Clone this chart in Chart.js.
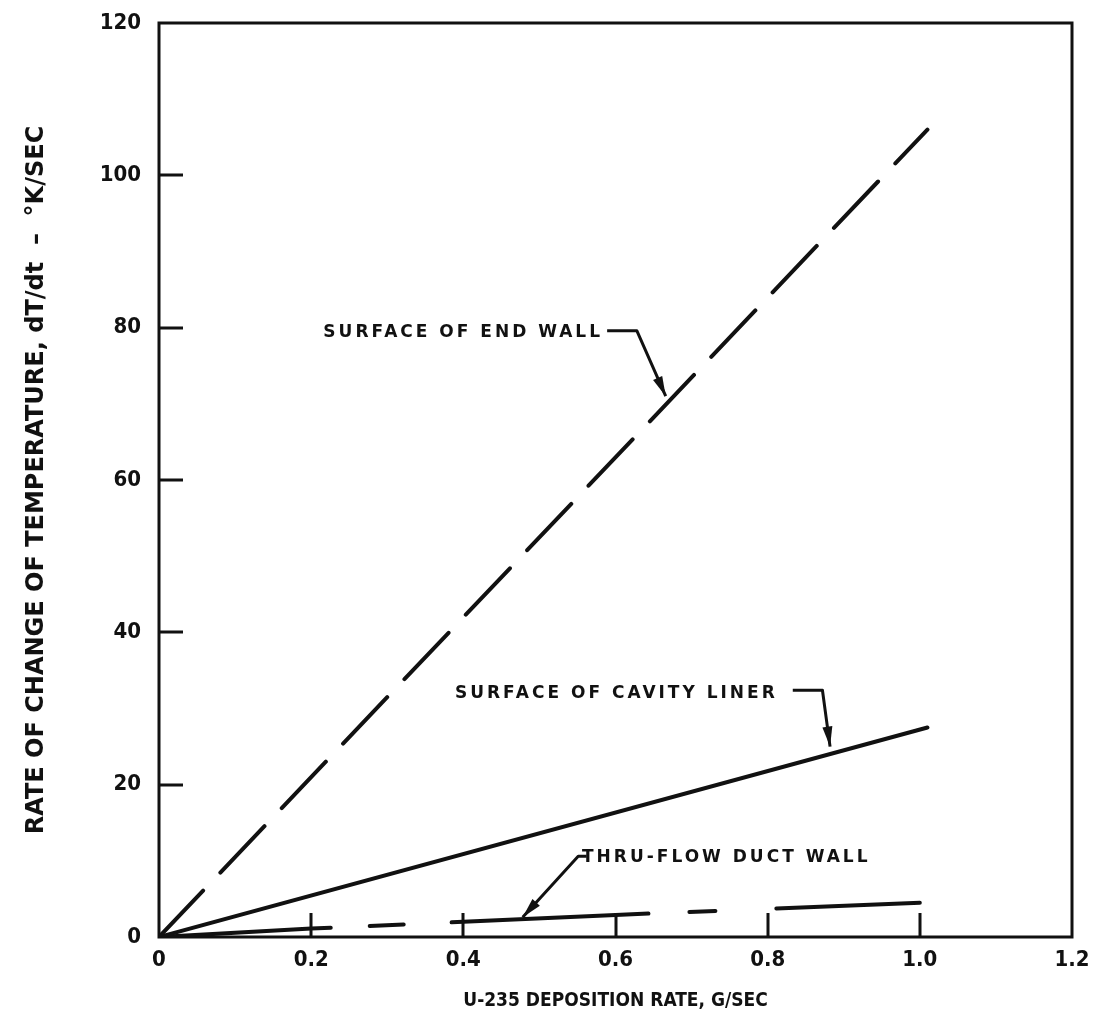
<!DOCTYPE html>
<html>
<head>
<meta charset="utf-8">
<title>Rate of change of temperature vs U-235 deposition rate</title>
<script src="https://cdn.jsdelivr.net/npm/chart.js@4/dist/chart.umd.min.js"></script>
<style>
  html, body { margin: 0; padding: 0; background: #fff; }
  #wrap { width: 1097px; height: 1032px; }
</style>
</head>
<body>
<div id="wrap"><canvas id="chart" width="1097" height="1032"></canvas></div>
<script>
// ---- data: U-235 deposition rate (g/sec) vs dT/dt (K/sec) ----
const lineRate        = [0, 1.01];
const endWallDTdt     = [0, 106];
const cavityLinerDTdt = [0, 27.5];

const ductRate        = [0, 0.2, 0.4, 0.6, 0.8, 1.0];
const ductWallDTdt    = [0, 1.1, 2.0, 2.9, 3.7, 4.5];

const xTickValues = [0, 0.2, 0.4, 0.6, 0.8, 1.0, 1.2];
const xTickLabels = ['0', '0.2', '0.4', '0.6', '0.8', '1.0', '1.2'];
const yTickValues = [0, 20, 40, 60, 80, 100, 120];
const yTickLabels = ['0', '20', '40', '60', '80', '100', '120'];

const curveLabels = ['SURFACE OF END WALL', 'SURFACE OF CAVITY LINER', 'THRU-FLOW DUCT WALL'];

// ---- styling ----
const NARROW = "'Liberation Sans Narrow', 'DejaVu Sans Condensed', 'Liberation Sans', sans-serif";
const WIDE   = "'DejaVu Sans', 'Liberation Sans', sans-serif";
const INK = '#111';

const toPoints = (xs, ys) => xs.map((x, i) => ({ x, y: ys[i] }));

// callout placement (data coordinates): text anchor, then leader polyline ending in an arrow
const callouts = [
  { text: curveLabels[0], at: [0.216, 79.3], leader: [[0.589, 79.6], [0.628, 79.6], [0.666, 71.0]] },
  { text: curveLabels[1], at: [0.389, 32.0], leader: [[0.833, 32.4], [0.872, 32.4], [0.882, 25.0]] },
  { text: curveLabels[2], at: [0.556, 10.4], leader: [[0.562, 10.6], [0.551, 10.6], [0.478, 2.6]] }
];

// plot frame and inward tick marks
const framePlugin = {
  id: 'frame',
  beforeDatasetsDraw(chart) {
    const { ctx, chartArea: a, scales: { x, y } } = chart;
    ctx.save();
    ctx.strokeStyle = INK;
    ctx.lineWidth = 3;
    ctx.strokeRect(a.left, a.top, a.right - a.left, a.bottom - a.top);
    ctx.beginPath();
    x.ticks.forEach(t => {
      if (t.value > x.min && t.value < x.max) {
        const px = Math.round(x.getPixelForValue(t.value));
        ctx.moveTo(px, a.bottom);
        ctx.lineTo(px, a.bottom - 24);
      }
    });
    y.ticks.forEach(t => {
      if (t.value > y.min && t.value < y.max) {
        const py = Math.round(y.getPixelForValue(t.value));
        ctx.moveTo(a.left, py);
        ctx.lineTo(a.left + 24, py);
      }
    });
    ctx.stroke();
    ctx.restore();
  }
};

// curve labels with leader lines and arrowheads
const calloutPlugin = {
  id: 'callouts',
  afterDatasetsDraw(chart) {
    const { ctx, scales: { x, y } } = chart;
    const P = ([vx, vy]) => [x.getPixelForValue(vx), y.getPixelForValue(vy)];
    ctx.save();
    ctx.fillStyle = INK;
    ctx.strokeStyle = INK;
    ctx.font = `bold 17px ${WIDE}`;
    ctx.letterSpacing = '3px';
    ctx.textBaseline = 'middle';
    ctx.textAlign = 'left';
    callouts.forEach(c => {
      const [tx, ty] = P(c.at);
      ctx.fillText(c.text, tx, ty);
      const pts = c.leader.map(P);
      ctx.lineWidth = 3;
      ctx.lineJoin = 'round';
      ctx.beginPath();
      ctx.moveTo(pts[0][0], pts[0][1]);
      for (let i = 1; i < pts.length; i++) ctx.lineTo(pts[i][0], pts[i][1]);
      ctx.stroke();
      const [ex, ey] = pts[pts.length - 1];
      const [sx, sy] = pts[pts.length - 2];
      const ang = Math.atan2(ey - sy, ex - sx);
      const len = 20, half = 5;
      ctx.beginPath();
      ctx.moveTo(ex, ey);
      ctx.lineTo(ex - len * Math.cos(ang) + half * Math.sin(ang), ey - len * Math.sin(ang) - half * Math.cos(ang));
      ctx.lineTo(ex - len * Math.cos(ang) - half * Math.sin(ang), ey - len * Math.sin(ang) + half * Math.cos(ang));
      ctx.closePath();
      ctx.fill();
    });
    ctx.restore();
  }
};

new Chart(document.getElementById('chart'), {
  type: 'line',
  data: {
    datasets: [
      {
        label: curveLabels[0],
        data: toPoints(lineRate, endWallDTdt),
        borderColor: INK,
        borderWidth: 4,
        borderDash: [64, 25],
        borderCapStyle: 'round',
        pointRadius: 0,
        tension: 0
      },
      {
        label: curveLabels[1],
        data: toPoints(lineRate, cavityLinerDTdt),
        borderColor: INK,
        borderWidth: 4,
        borderCapStyle: 'round',
        pointRadius: 0,
        tension: 0
      },
      {
        label: curveLabels[2],
        data: toPoints(ductRate, ductWallDTdt),
        borderColor: INK,
        borderWidth: 4,
        borderDash: [172, 39, 34, 48, 197, 41, 26, 61, 150, 200],
        borderCapStyle: 'round',
        pointRadius: 0,
        tension: 0
      }
    ]
  },
  options: {
    responsive: false,
    devicePixelRatio: 1,
    animation: false,
    layout: { padding: { top: 23, right: 25, bottom: 0, left: 0 } },
    plugins: { legend: { display: false }, tooltip: { enabled: false } },
    scales: {
      x: {
        type: 'linear',
        min: 0,
        max: 1.2,
        afterBuildTicks: s => { s.ticks = xTickValues.map(v => ({ value: v })); },
        afterFit: s => { s.height = 95; s.paddingLeft = 0; s.paddingRight = 0; },
        grid: { display: false, drawTicks: false },
        border: { display: false },
        ticks: {
          padding: 10,
          color: INK,
          font: { family: NARROW, size: 22, weight: 'bold' },
          callback: (v, i) => xTickLabels[i]
        },
        title: {
          display: true,
          text: 'U-235 DEPOSITION RATE, G/SEC',
          color: INK,
          font: { family: NARROW, size: 19, weight: 'bold' },
          padding: { top: 0, bottom: 20 }
        }
      },
      y: {
        type: 'linear',
        min: 0,
        max: 120,
        afterBuildTicks: s => { s.ticks = yTickValues.map(v => ({ value: v })); },
        afterFit: s => { s.width = 159; s.paddingTop = 0; s.paddingBottom = 0; },
        grid: { display: false, drawTicks: false },
        border: { display: false },
        ticks: {
          padding: 18,
          color: INK,
          font: { family: NARROW, size: 22, weight: 'bold' },
          callback: (v, i) => yTickLabels[i]
        },
        title: {
          display: true,
          text: 'RATE OF CHANGE OF TEMPERATURE, dT/dt  \u2013  \u00B0K/SEC',
          color: INK,
          font: { family: WIDE, size: 24, weight: 'bold' },
          padding: { top: 22, bottom: 0 }
        }
      }
    }
  },
  plugins: [framePlugin, calloutPlugin]
});
</script>
</body>
</html>
